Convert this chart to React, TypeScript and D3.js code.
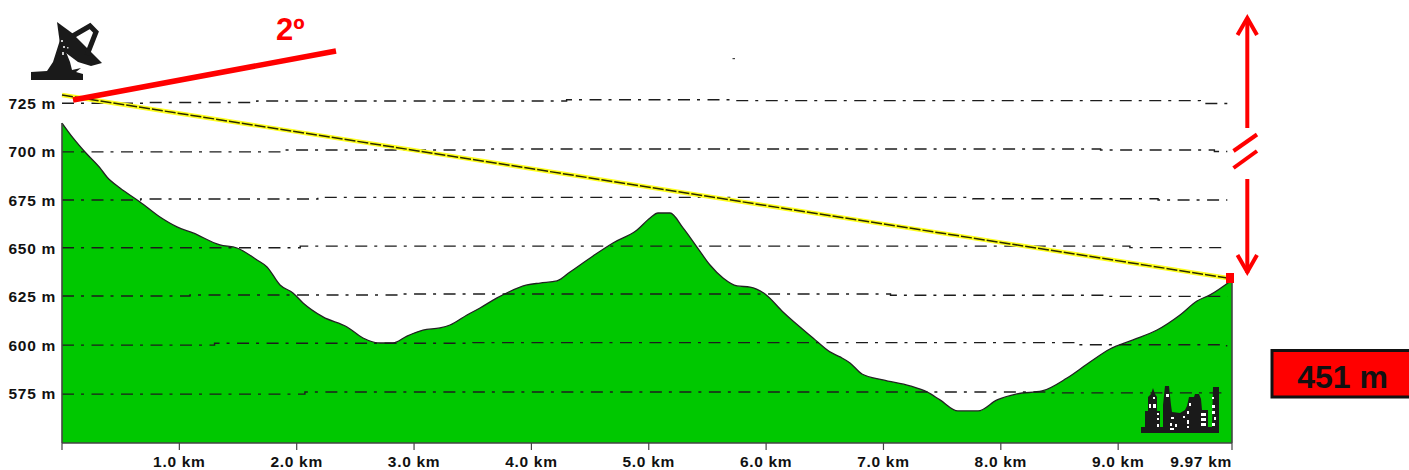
import React from "react";
import * as d3 from "d3";

const profileKm = [0,.094,.196,.324,.383,.494,.665,.835,.98,1.116,1.346,1.491,1.662,1.747,1.858,1.968,2.054,2.224,2.429,2.565,2.71,2.821,2.94,3.076,3.221,3.306,3.451,3.562,3.707,3.963,4.073,4.218,4.329,4.525,4.695,4.9,5.011,5.079,5.181,5.292,5.411,5.522,5.633,5.752,5.863,5.991,6.144,6.4,6.544,6.63,6.715,6.817,6.996,7.226,7.371,7.482,7.635,7.806,7.968,8.138,8.351,8.564,8.76,8.93,9.127,9.331,9.527,9.672,9.783,9.97];
const profileM = [714.8,707.1,699.8,691.6,686.9,681.2,674,666.2,661.1,658,651.8,650.2,644,640.4,631.1,627,621.8,614.6,609.4,603.7,601.1,601.1,604.7,607.8,608.9,610.4,615.6,619.2,624.4,631.1,632.1,633.2,637.8,646.1,652.8,659.5,665.7,668.3,668.3,660.6,650.7,641.4,634.7,630.6,630,626.4,617.1,603.7,596.5,593.9,590.8,585.1,582,578.9,575.8,571.7,566,566,571.7,574.8,576.3,583,591.3,598,602.7,607.8,615.6,622.8,626,633.7];

const yTicks = [725,700,675,650,625,600,575];
const xTicks = [1,2,3,4,5,6,7,8,9,9.97];
const xTickLabels = ["1.0 km","2.0 km","3.0 km","4.0 km","5.0 km","6.0 km","7.0 km","8.0 km","9.0 km","9.97 km"];

// hand-drawn gridlines drift slightly from their nominal level
const grid725: [number,number][] = [[0,725],[.71,725.4],[1.66,726.2],[4.3,726.8],[5.72,726.4],[9.7,725.7],[9.74,724.9],[9.93,724.9]];
const grid700: [number,number][] = [[0,699.9],[1.9,700.9],[3.65,701.4],[8.85,700.9],[9.82,700.1],[9.93,700.1]];
const grid675: [number,number][] = [[0,675],[.67,675.5],[2.18,676.4],[7.76,675.7],[9.34,675],[9.93,675]];
const grid650: [number,number][] = [[0,650.3],[2.03,651.2],[9.1,650.4],[9.93,650.4]];
const grid625: [number,number][] = [[0,625.4],[1.09,625.9],[2.88,626.4],[7.06,625.8],[8.89,625.2],[9.93,625.2]];
const grid600: [number,number][] = [[0,600],[1.3,601],[3.5,601.3],[8.63,600.2],[9.91,599.7],[9.93,599.7]];
const grid575: [number,number][] = [[0,574.7],[2.07,575.8],[8.42,575.3],[9.93,575.3]];
const gridLines = [grid725,grid700,grid675,grid650,grid625,grid600,grid575];

const sightKm = [0,9.93];
const sightM = [729.3,634.7];
const distanceLabel = "451 m";
const angleLabel = "2º";

const W = 1409, H = 470;
const x = d3.scaleLinear().domain([0,9.97]).range([62,1232]);
const y = d3.scaleLinear().domain([725,575]).range([103.3,393.5]);
const baseY = 443;
const FONT = "'Liberation Sans', Arial, sans-serif";
const pts = profileKm.map((k,i)=>[k,profileM[i]] as [number,number]);
const area = d3.area<[number,number]>().x(d=>x(d[0])).y0(baseY).y1(d=>y(d[1])).curve(d3.curveMonotoneX);
const top = d3.line<[number,number]>().x(d=>x(d[0])).y(d=>y(d[1])).curve(d3.curveMonotoneX);
const straight = d3.line<[number,number]>().x(d=>x(d[0])).y(d=>y(d[1]));
const gridPath = d3.line<[number,number]>().x(d=>x(d[0])).y(d=>y(d[1])).curve(d3.curveStepAfter);
const sight = straight(sightKm.map((k,i)=>[k,sightM[i]] as [number,number]))!;

const dishPlate = "M57,22 L72,33 L86,47 L102,63 L91,66 L78,62 L66,53 L60,44 Z";
const dishTower = "M60,40 L66,52 L70,62 L72,70 L81,68 L76,72 L83,74 L83,80 L31,80 L31,72 L47,71 L53,62 Z";
const dishArm = "M71,37 L90,26 L96,32 L87,55";
const dishLights: [number,number,number,number][] = [[61,40,2,2],[63,46,2,2],[62,52,2,3],[67,47,1.5,1.5]];
const skyline = "M1141,433 L1141,427 L1145,427 L1145,411 L1148,411 L1148,397 L1151,394 L1153,388 L1155,394 L1157,397 L1157,411 L1160,411 L1160,427 L1163,427 L1163,405 L1165,386 L1169,386 L1171,405 L1172,412 L1180,413 L1185,410 L1187,406 L1189,397 L1194,397 L1195,394 L1199,394 L1201,399 L1202,410 L1208,410 L1208,427 L1212,427 L1213,387 L1219,387 L1219,433 Z";
const windows: [number,number,number,number][] = [[1153,397,2,2],[1149,404,2,4],[1153,404,3,4],[1157,413,2,2],[1157,418,2,2],[1157,424,2,3],[1166,394,3,3],[1171,417,3,2],[1170,423,2,3],[1175,424,2,3],[1170,428,4,2],[1183,416,2,2],[1187,411,2,3],[1187,420,2,4],[1187,426,2,2],[1189,403,2,3],[1201,413,5,3],[1201,418,5,3],[1201,423,5,3],[1212,397,2,2],[1212,405,3,3],[1212,411,3,3],[1214,417,2,3],[1212,423,3,3]];

export default function App() {
  return (
    <svg width={W} height={H} viewBox={`0 0 ${W} ${H}`} style={{position:"absolute",left:0,top:0,background:"#fff",display:"block"}}>
      <path d={area(pts)!} fill="#00c800"/>
      <path d={top(pts)!} fill="none" stroke="#222" strokeWidth={1.3}/>
      {gridLines.map((g,i)=>(
        <path key={i} d={gridPath(g)!} fill="none" stroke="#1c1c1c" strokeWidth={1.4} strokeDasharray="12 7 3 7.5"/>
      ))}
      <line x1={x(0)} x2={x(0)} y1={y(profileM[0])} y2={baseY} stroke="#444" strokeWidth={1.6}/>
      <line x1={x(9.97)} x2={x(9.97)} y1={y(profileM[profileM.length-1])} y2={baseY} stroke="#444" strokeWidth={1.6}/>
      <line x1={x(0)} x2={x(9.97)} y1={baseY} y2={baseY} stroke="#444" strokeWidth={1.6}/>
      <line x1={x(0)} x2={x(0)} y1={baseY} y2={450} stroke="#444" strokeWidth={1.2}/>
      {xTicks.map((t,i)=>(
        <g key={t}>
          <line x1={x(t)} x2={x(t)} y1={baseY} y2={450} stroke="#444" strokeWidth={1.2}/>
          <text x={x(t)} y={467} textAnchor={i===xTicks.length-1 ? "end":"middle"}
            fontFamily={FONT} fontWeight="bold" fontSize={15.5} letterSpacing={0.7} fill="#111">{xTickLabels[i]}</text>
        </g>
      ))}
      {yTicks.map(t=>(
        <text key={t} x={56} y={y(t)+5.5} textAnchor="end" fontFamily={FONT} fontWeight="bold" fontSize={15.5} letterSpacing={0.7} fill="#111">{t} m</text>
      ))}
      <path d={sight} fill="none" stroke="#ffff20" strokeWidth={4.4}/>
      <path d={sight} fill="none" stroke="#2a2a00" strokeWidth={1.5} strokeDasharray="11 2"/>
      <rect x={1226} y={273} width={8} height={10} fill="#ff0000"/>
      <line x1={73} y1={100} x2={336} y2={51} stroke="#ff0000" strokeWidth={5.5}/>
      <text x={276} y={40} fontFamily={FONT} fontWeight="bold" fontSize={31} fill="#ff0000">{angleLabel}</text>
      <g stroke="#ff0000" strokeWidth={4} fill="none">
        <line x1={1247.3} x2={1247.3} y1={18} y2={128}/>
        <path d="M1237.5,35 L1247.3,18 L1257,35"/>
        <line x1={1233.5} y1={151} x2={1257} y2={134.5}/>
        <line x1={1233.5} y1={168} x2={1257} y2={151}/>
        <line x1={1247.3} x2={1247.3} y1={179} y2={273}/>
        <path d="M1237.5,255 L1247.3,272 L1257,255"/>
      </g>
      <rect x={1272} y={350.5} width={140} height={46.5} fill="#ff0000" stroke="#111" strokeWidth={3}/>
      <text x={1342.5} y={388} textAnchor="middle" fontFamily={FONT} fontWeight="bold" fontSize={32} fill="#111">{distanceLabel}</text>
      <rect x={732.5} y={58} width={2.5} height={1.2} fill="#444"/>
      <path d={dishTower} fill="#1a1a1a"/>
      <path d={dishPlate} fill="#1a1a1a"/>
      <path d={dishArm} fill="none" stroke="#1a1a1a" strokeWidth={5}/>
      {dishLights.map((r,i)=><rect key={i} x={r[0]} y={r[1]} width={r[2]} height={r[3]} fill="#ccc"/>)}
      <path d={skyline} fill="#1a1a1a"/>
      {windows.map((r,i)=><rect key={i} x={r[0]} y={r[1]} width={r[2]} height={r[3]} fill="#fff"/>)}
    </svg>
  );
}
